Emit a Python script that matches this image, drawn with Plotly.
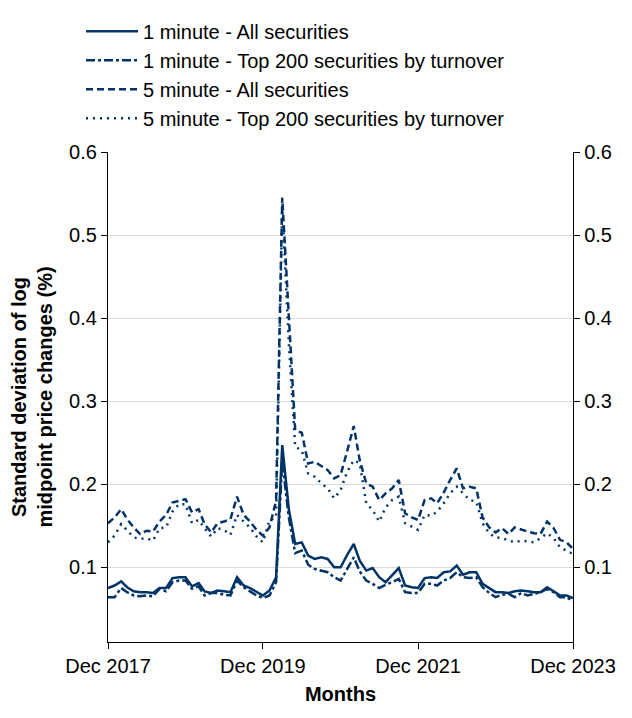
import pandas as pd
import plotly.graph_objects as go

months = pd.date_range("2017-12-01", periods=73, freq="MS")

one_min_all = [
    0.075, 0.078, 0.083, 0.076, 0.071, 0.070, 0.070, 0.069, 0.075, 0.075,
    0.087, 0.088, 0.088, 0.077, 0.081, 0.071, 0.069, 0.072, 0.071, 0.070,
    0.088, 0.078, 0.075, 0.070, 0.066, 0.072, 0.088, 0.247, 0.170, 0.128,
    0.130, 0.114, 0.110, 0.112, 0.110, 0.100, 0.100, 0.115, 0.128, 0.108,
    0.096, 0.099, 0.088, 0.082, 0.090, 0.099, 0.078, 0.076, 0.075, 0.087,
    0.088, 0.087, 0.094, 0.095, 0.102, 0.091, 0.094, 0.094, 0.080, 0.075,
    0.070, 0.070, 0.069, 0.071, 0.072, 0.071, 0.070, 0.070, 0.076, 0.071,
    0.066, 0.066, 0.063,
]
one_min_top200 = [
    0.064, 0.064, 0.075, 0.070, 0.066, 0.065, 0.066, 0.065, 0.074, 0.071,
    0.082, 0.084, 0.084, 0.074, 0.077, 0.066, 0.069, 0.069, 0.067, 0.066,
    0.084, 0.076, 0.071, 0.066, 0.063, 0.066, 0.082, 0.228, 0.160, 0.117,
    0.120, 0.103, 0.098, 0.096, 0.094, 0.088, 0.084, 0.098, 0.112, 0.095,
    0.084, 0.080, 0.075, 0.079, 0.082, 0.086, 0.070, 0.069, 0.069, 0.080,
    0.080, 0.078, 0.084, 0.087, 0.094, 0.088, 0.087, 0.088, 0.076, 0.069,
    0.064, 0.067, 0.068, 0.064, 0.069, 0.066, 0.068, 0.070, 0.074, 0.070,
    0.064, 0.064, 0.059,
]
five_min_all = [
    0.153, 0.160, 0.170, 0.158, 0.148, 0.140, 0.144, 0.143, 0.155, 0.163,
    0.178, 0.180, 0.182, 0.166, 0.170, 0.152, 0.142, 0.153, 0.155, 0.158,
    0.185, 0.163, 0.155, 0.145, 0.138, 0.148, 0.180, 0.545, 0.400, 0.265,
    0.262, 0.225, 0.227, 0.222, 0.217, 0.207, 0.211, 0.240, 0.270, 0.229,
    0.201, 0.197, 0.181, 0.189, 0.195, 0.205, 0.165, 0.160, 0.157, 0.181,
    0.183, 0.177, 0.190, 0.205, 0.219, 0.195, 0.197, 0.195, 0.160, 0.148,
    0.142, 0.147, 0.140, 0.148, 0.145, 0.143, 0.141, 0.140, 0.155, 0.147,
    0.133, 0.130, 0.122,
]
five_min_top200 = [
    0.130, 0.138, 0.152, 0.145, 0.136, 0.134, 0.135, 0.132, 0.147, 0.148,
    0.167, 0.176, 0.176, 0.153, 0.157, 0.147, 0.137, 0.147, 0.145, 0.139,
    0.163, 0.155, 0.148, 0.137, 0.130, 0.157, 0.160, 0.535, 0.370, 0.245,
    0.241, 0.213, 0.209, 0.201, 0.195, 0.183, 0.193, 0.215, 0.229, 0.225,
    0.177, 0.169, 0.155, 0.172, 0.181, 0.185, 0.153, 0.149, 0.145, 0.163,
    0.162, 0.167, 0.177, 0.189, 0.197, 0.189, 0.181, 0.179, 0.153, 0.141,
    0.136, 0.135, 0.132, 0.130, 0.132, 0.131, 0.130, 0.135, 0.141, 0.135,
    0.124, 0.120, 0.116,
]

series_names = [
    "1 minute - All securities",
    "1 minute - Top 200 securities by turnover",
    "5 minute - All securities",
    "5 minute - Top 200 securities by turnover",
]
series_values = [one_min_all, one_min_top200, five_min_all, five_min_top200]
dash_styles = ["solid", "dashdot", "7px,4px", "2px,5px"]

x_tick_dates = ["2017-12-01", "2019-12-01", "2021-12-01", "2023-12-01"]
x_tick_labels = ["Dec 2017", "Dec 2019", "Dec 2021", "Dec 2023"]
y_ticks = [0.1, 0.2, 0.3, 0.4, 0.5, 0.6]
y_tick_labels = ["0.1", "0.2", "0.3", "0.4", "0.5", "0.6"]

COLOR = "#003366"
FONT = "Liberation Sans, Arial, sans-serif"
FS = 20

fig = go.Figure()
for i, (name, vals, dash) in enumerate(zip(series_names, series_values, dash_styles)):
    fig.add_trace(go.Scatter(
        x=months, y=vals, name=name, mode="lines",
        line=dict(color=COLOR, width=2.5, dash=dash),
        legendgroup=f"g{i}",
    ))

# invisible trace to carry the right-hand axis
fig.add_trace(go.Scatter(
    x=months, y=one_min_all, yaxis="y2", mode="lines",
    line=dict(color="rgba(0,0,0,0)"), showlegend=False, hoverinfo="skip",
))

axis_common = dict(
    range=[0.01, 0.6], tickvals=y_ticks, ticktext=y_tick_labels,
    showline=True, linecolor="black", linewidth=1.3,
    ticks="outside", ticklen=6, tickwidth=1.3, tickcolor="black",
    tickfont=dict(size=FS, color="black", family=FONT),
    zeroline=False, automargin=False,
)

fig.update_layout(
    width=624, height=710,
    margin=dict(l=100, r=59, t=144, b=76, autoexpand=False),
    plot_bgcolor="white", paper_bgcolor="white",
    font=dict(family=FONT, color="black", size=FS),
    showlegend=True,
    legend=dict(
        x=-0.058, y=1.286, xanchor="left", yanchor="top",
        font=dict(size=FS, color="black", family=FONT),
        traceorder="grouped", tracegroupgap=0,
        bgcolor="rgba(0,0,0,0)", itemwidth=52,
    ),
    xaxis=dict(
        type="date",
        range=["2017-12-01", "2023-12-01"],
        tickvals=x_tick_dates, ticktext=x_tick_labels,
        showline=True, linecolor="black", linewidth=1.3,
        ticks="outside", ticklen=6, tickwidth=1.3, tickcolor="black",
        showgrid=False, zeroline=False, automargin=False,
        tickfont=dict(size=FS, color="black", family=FONT),
        title=dict(text="<b>Months</b>", font=dict(size=FS, color="black", family=FONT), standoff=10),
    ),
    yaxis=dict(
        **axis_common,
        showgrid=True, gridcolor="#d9d9d9", gridwidth=1,
        title=dict(
            text="<b>Standard deviation of log<br>midpoint price changes (%)</b>",
            font=dict(size=FS, color="black", family=FONT), standoff=11,
        ),
    ),
    yaxis2=dict(
        **axis_common,
        overlaying="y", side="right", anchor="x",
        showgrid=False,
    ),
)

fig.write_html("out.html")
